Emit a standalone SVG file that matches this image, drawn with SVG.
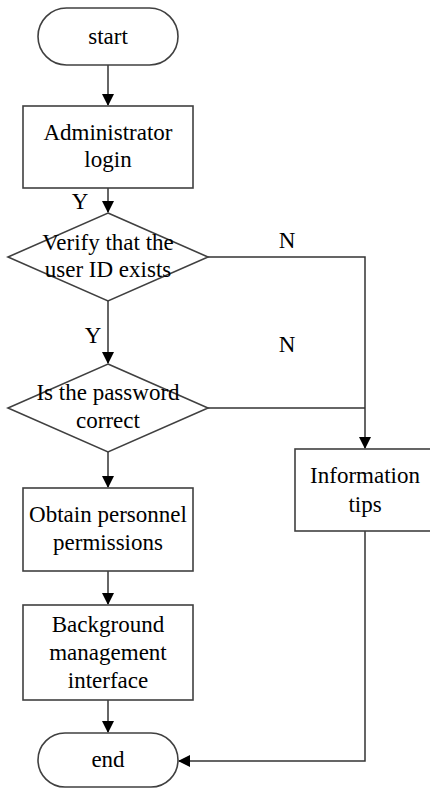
<svg xmlns="http://www.w3.org/2000/svg" width="430" height="788" viewBox="0 0 430 788">
<defs>
<style>
.s{fill:#fff;stroke:#404040;stroke-width:1.6}
.c{fill:none;stroke:#333;stroke-width:1.5}
text{font-family:'Liberation Serif','Times New Roman',serif;font-size:23px;fill:#000;text-anchor:middle}
</style>
<marker id="a" markerWidth="12" markerHeight="12" refX="11" refY="6" orient="auto" markerUnits="userSpaceOnUse">
<path d="M0,0 L12,6 L0,12 Z" fill="#000"/>
</marker>
</defs>
<rect width="430" height="788" fill="#fff"/>
<g id="connectors">
<line class="c" x1="108" y1="65" x2="108" y2="105" marker-end="url(#a)"/>
<line class="c" x1="108" y1="188" x2="108" y2="212" marker-end="url(#a)"/>
<polyline class="c" points="208,257 365,257 365,448" marker-end="url(#a)"/>
<line class="c" x1="108" y1="301" x2="108" y2="363" marker-end="url(#a)"/>
<line class="c" x1="208" y1="408" x2="365" y2="408"/>
<line class="c" x1="108" y1="452" x2="108" y2="487" marker-end="url(#a)"/>
<line class="c" x1="108" y1="571" x2="108" y2="604" marker-end="url(#a)"/>
<line class="c" x1="108" y1="700" x2="108" y2="732" marker-end="url(#a)"/>
<polyline class="c" points="365,531 365,761 179,761" marker-end="url(#a)"/>
<text x="80" y="209">Y</text>
<text x="287" y="248">N</text>
<text x="93" y="343">Y</text>
<text x="287" y="352">N</text>
</g>
<g id="start">
<rect class="s" x="38" y="8" width="140" height="57" rx="28.5"/>
<text x="108" y="44">start</text>
</g>
<g id="login">
<rect class="s" x="23" y="106" width="170" height="82"/>
<text x="108" y="140">Administrator</text>
<text x="108" y="167">login</text>
</g>
<g id="verify">
<polygon class="s" points="108,213 208,257 108,301 8,257"/>
<text x="108" y="250">Verify that the</text>
<text x="108" y="277">user ID exists</text>
</g>
<g id="password">
<polygon class="s" points="108,364 208,408 108,452 8,408"/>
<text x="108" y="400">Is the password</text>
<text x="108" y="428">correct</text>
</g>
<g id="obtain">
<rect class="s" x="23" y="488" width="170" height="83"/>
<text x="108" y="522">Obtain personnel</text>
<text x="108" y="550">permissions</text>
</g>
<g id="background">
<rect class="s" x="23" y="605" width="170" height="95"/>
<text x="108" y="632">Background</text>
<text x="108" y="660">management</text>
<text x="108" y="688">interface</text>
</g>
<g id="info">
<rect class="s" x="295" y="449" width="140" height="82"/>
<text x="365" y="483">Information</text>
<text x="365" y="512">tips</text>
</g>
<g id="end">
<rect class="s" x="38" y="733" width="140" height="54" rx="27"/>
<text x="108" y="767">end</text>
</g>
</svg>
